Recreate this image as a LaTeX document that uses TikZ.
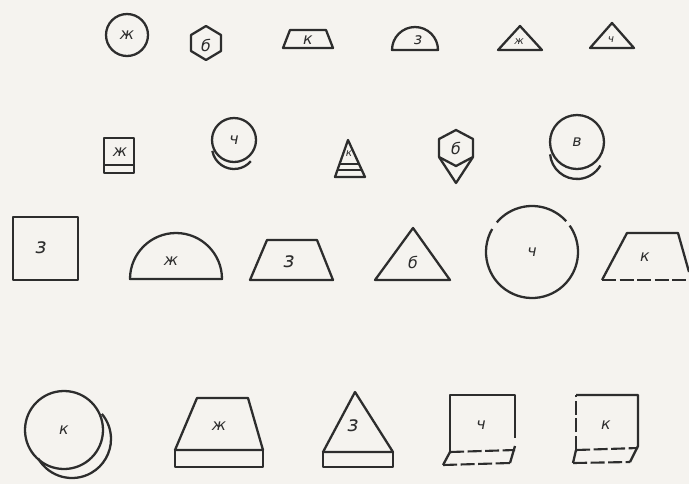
\documentclass[tikz,border=0pt]{standalone}
\usepackage{fontspec}
\setmainfont{DejaVu Sans}
\usepackage{tikz}
\usetikzlibrary{calc}

\definecolor{paper}{RGB}{245,243,239}
\definecolor{ink}{RGB}{45,45,45}

\begin{document}
\begin{tikzpicture}[
    x=0.02cm, y=-0.02cm,
    fig/.style={draw=ink, line width=1.3pt, line join=round},
    gapline/.style={draw=ink, line width=1.2pt, dash pattern=on 8pt off 2pt},
    lbl/.style={inner sep=0pt, text=ink, font=\itshape\fontsize{9}{9}\selectfont},
    biglbl/.style={inner sep=0pt, text=ink, font=\itshape\fontsize{12}{12}\selectfont},
    smalllbl/.style={inner sep=0pt, text=ink, font=\itshape\fontsize{6}{6}\selectfont},
]

% Paper
\fill[paper] (0,0) rectangle (689,484);
\useasboundingbox (0,0) rectangle (689,484);

% Row 1
\node[lbl] (zh1) at (127,35) {ж};
\draw[fig] (zh1.center) circle[radius=21];

\node[lbl] (b1) at (206,45) {б};
\draw[fig] (206,26) -- (221,35) -- (221,51) -- (206,60) -- (191,51) -- (191,35) -- cycle;

\node[lbl] (k1) at (308,40) {к};
\draw[fig] (283,48) -- (333,48) -- (326,30) -- (290,30) -- cycle;

\node[lbl] (z1) at (418,40) {з};
\draw[fig] (392,50) arc[start angle=180, end angle=360, radius=23] -- cycle;

\node[smalllbl] (zh2) at (519,42) {ж};
\draw[fig] (498,50) -- (542,50) -- (520,26) -- cycle;

\node[smalllbl] (ch1) at (611,40) {ч};
\draw[fig] (590,48) -- (634,48) -- (612,23) -- cycle;

% Row 2
\node[lbl] (zh3) at (120,152) {ж};
\draw[fig] (104,138) rectangle (134,173);
\draw[fig] (104,165) -- (134,165);

\node[lbl] (ch2) at (234,140) {ч};
\draw[fig] (ch2.center) circle[radius=22];
\draw[fig] (ch2.center) ++(0,7) ++(170:22) arc[start angle=170, end angle=40, radius=22];

\node[smalllbl] (k2) at (349,154) {к};
\draw[fig] (348,140) -- (365,177) -- (335,177) -- cycle;
\draw[fig] (340,164) -- (359,164);
\draw[fig] (338,170) -- (362,170);

\node[lbl] (b2) at (456,148) {б};
\draw[fig] (456,130) -- (473,139) -- (473,157) -- (456,166) -- (439,157) -- (439,139) -- cycle;
\draw[fig] (439,157) -- (456,183) -- (473,157);

\node[lbl] (v1) at (577,142) {в};
\draw[fig] (v1.center) circle[radius=27];
\draw[fig] (v1.center) ++(0,10) ++(175:27) arc[start angle=175, end angle=30, radius=27];

% Row 3
\node[biglbl] (z2) at (41,248) {з};
\draw[fig] (13,217) rectangle (78,280);

\node[lbl] (zh4) at (171,261) {ж};
\draw[fig] (130,279) arc[start angle=180, end angle=360, radius=46] -- cycle;

\node[biglbl] (z3) at (289,262) {з};
\draw[fig] (250,280) -- (333,280) -- (317,240) -- (267,240) -- cycle;

\node[lbl] (b3) at (413,262) {б};
\draw[fig] (375,280) -- (450,280) -- (413,228) -- cycle;

\node[lbl] (ch3) at (532,252) {ч};
\draw[fig] (ch3.center) ++(-42:46) arc[start angle=-42, end angle=-140, radius=46];
\draw[fig] (ch3.center) ++(-150:46) arc[start angle=-150, end angle=-395, radius=46];

\node[lbl] (k4) at (645,257) {к};
\draw[fig] (602,280) -- (627,233) -- (678,233) -- (689,272);
\draw[gapline] (602,280) -- (689,280);

% Row 4
\node[lbl] (k5) at (64,430) {к};
\draw[fig] (k5.center) circle[radius=39];
\draw[fig] (k5.center) ++(8,9) ++(150:39) arc[start angle=150, end angle=-40, radius=39];

\node[lbl] (zh5) at (219,426) {ж};
\draw[fig] (175,450) -- (263,450) -- (248,398) -- (197,398) -- cycle;
\draw[fig] (175,450) rectangle (263,467);

\node[biglbl] (z4) at (353,426) {з};
\draw[fig] (323,452) -- (393,452) -- (355,392) -- cycle;
\draw[fig] (323,452) rectangle (393,467);

\node[lbl] (ch4) at (481,425) {ч};
\draw[fig] (450,452) -- (450,395) -- (515,395) -- (515,438);
\draw[gapline] (450,452) -- (515,450);
\draw[fig] (450,452) -- (443,465);
\draw[gapline] (443,465) -- (510,463);
\draw[fig] (510,463) -- (515,446);

\node[lbl] (k6) at (606,425) {к};
\draw[gapline] (576,450) -- (576,395);
\draw[fig] (576,395) -- (638,395) -- (638,446) -- (630,462);
\draw[gapline] (576,450) -- (638,448);
\draw[fig] (576,450) -- (573,463);
\draw[gapline] (573,463) -- (630,462);

\end{tikzpicture}
\end{document}
